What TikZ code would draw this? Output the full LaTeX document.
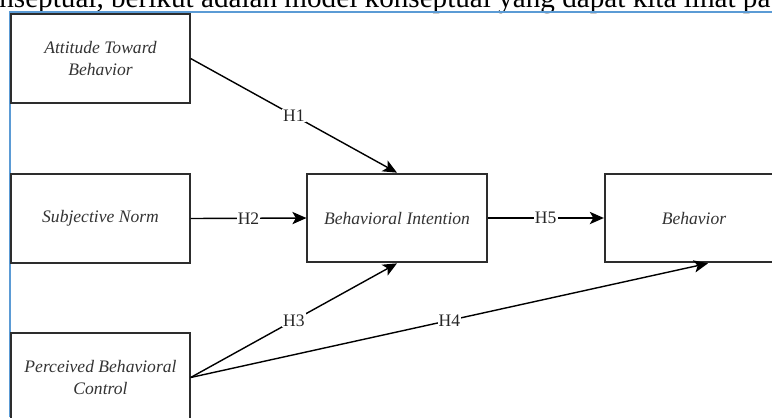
\documentclass[tikz,border=0pt]{standalone}
\usepackage{fontspec}
\setmainfont{Liberation Serif}
\usepackage{tikz}
\usetikzlibrary{arrows.meta, positioning, calc}

\definecolor{frameblue}{RGB}{91,155,213}
\definecolor{boxgray}{RGB}{45,45,45}

\tikzset{
    construct/.style={draw=boxgray, line width=1.1pt, minimum width=101.5pt, minimum height=50.5pt,
        align=center, font=\fontsize{10}{12.5}\selectfont\itshape, text=black!80, inner sep=0pt},
    path/.style={-{Stealth[length=8pt, width=7pt, inset=2pt]}, line width=0.8pt},
    hyp/.style={midway, fill=white, inner sep=0.6pt, font=\fontsize{10}{12}\selectfont, text=black!85}
}

\begin{document}
\begin{tikzpicture}[x=0.02cm, y=-0.02cm]
    \useasboundingbox (0,0) rectangle (772,417);

    % Running text of the page (cut at the top)
    \node[anchor=base west, inner sep=0pt, font=\fontsize{16.6}{18}\selectfont] (para) at (-1,7)
        {nseptual, berikut adalah model konseptual yang dapat kita lihat pa};

    % Frame of the inserted figure
    \draw[frameblue, line width=0.8pt] (10,417) -- (10,12) -- (772,12);

    % Constructs
    \node[construct] (att) at (100.5,58.5) {Attitude Toward\\Behavior};
    \node[construct] (sn) at (100.5,218.5) {Subjective Norm};
    \node[construct] (pbc) at (100.5,377.5) {Perceived Behavioral\\Control};
    \node[construct, minimum width=102pt] (bi) at (397,218) {Behavioral Intention};
    \node[construct] (beh) at (694,218) {Behavior};
    \coordinate (behin) at ($(beh.south)+(14,0)$);

    % Hypotheses
    \draw[path] (att.east) -- (bi.north) node[hyp] {H1};
    \draw[path] (sn.east) -- (bi.west) node[hyp] {H2};
    \draw[path] (pbc.east) -- (bi.south) node[hyp] {H3};
    \draw[path] (pbc.east) -- (behin) node[hyp] {H4};
    \draw[path] (bi.east) -- (beh.west) node[hyp] {H5};
\end{tikzpicture}
\end{document}
